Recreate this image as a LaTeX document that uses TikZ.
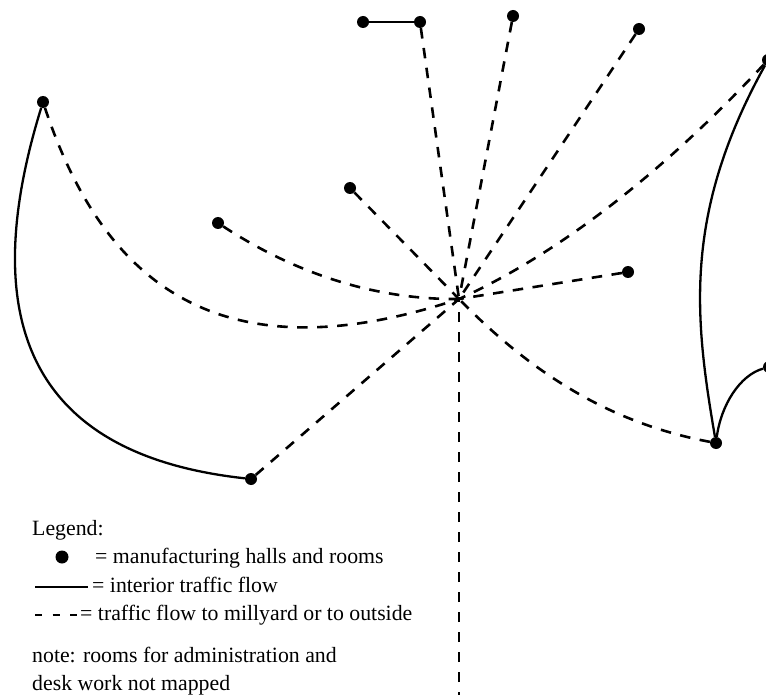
\documentclass[tikz,border=0pt]{standalone}
\usepackage{fontspec}
\setmainfont{Liberation Serif}
\begin{document}
\begin{tikzpicture}[x=1pt,y=-1pt,
  dot/.style={circle,fill=black,inner sep=0pt,minimum size=12pt},
  solidflow/.style={line width=2.3pt},
  dashflow/.style={line width=2.6pt,dash pattern=on 10.5pt off 9.5pt},
  legtext/.style={anchor=base west,inner sep=0pt,font=\fontsize{21.8}{26}\selectfont}]
\useasboundingbox (0,0) rectangle (766,695);
% map nodes
\coordinate (hub) at (459,299);
\coordinate (bottom) at (459,702);
\node[dot] (A) at (43,102) {};
\node[dot] (B) at (251,479) {};
\node[dot] (C) at (218,223) {};
\node[dot] (D) at (350,188) {};
\node[dot] (E) at (363,22) {};
\node[dot] (F) at (420,22) {};
\node[dot] (G) at (513,16) {};
\node[dot] (H) at (639,29) {};
\node[dot] (I) at (768,60) {};
\node[dot] (J) at (628,272) {};
\node[dot] (K) at (716,443) {};
\node[dot] (L) at (769,367) {};
% interior traffic
\draw[solidflow] (A) .. controls (-25,322) and (31,455) .. (B);
\draw[solidflow] (E) -- (F);
\draw[solidflow] (K) .. controls (695,320) and (682,215) .. (I);
\draw[solidflow] (K) .. controls (721,405) and (740,375) .. (L);
% traffic to millyard
\draw[dashflow] (A) .. controls (103,282) and (218,379) .. (hub);
\draw[dashflow] (C) .. controls (290,270) and (370,300) .. (hub);
\draw[dashflow] (B) -- (hub);
\draw[dashflow] (D) -- (hub);
\draw[dashflow] (F) -- (hub);
\draw[dashflow] (G) -- (hub);
\draw[dashflow] (H) -- (hub);
\draw[dashflow] (I) .. controls (686,148) and (578,245) .. (hub);
\draw[dashflow] (J) -- (hub);
\draw[dashflow] (K) .. controls (620,425) and (540,382) .. (hub);
\draw[dashflow] (bottom) -- (hub);
% legend
\node[legtext] (lg) at (32,535) {Legend:};
\node[dot,minimum size=13pt] (ldot) at (62,557) {};
\node[legtext] (l1) at (95,563) {= manufacturing halls and rooms};
\coordinate (s1) at (35,587);
\coordinate (s2) at (88,587);
\draw[line width=2.6pt] (s1) -- (s2);
\node[legtext] (l2) at (92,592) {= interior traffic flow};
\coordinate (d1) at (35,615);
\coordinate (d2) at (77,615);
\draw[line width=2.8pt,dash pattern=on 7pt off 10.5pt] (d1) -- (d2);
\node[legtext] (l3) at (80,620) {= traffic flow to millyard or to outside};
\node[legtext] (n1) at (32,662) {note: rooms for administration and};
\node[legtext] (n2) at (32,690) {desk work not mapped};
\end{tikzpicture}
\end{document}
